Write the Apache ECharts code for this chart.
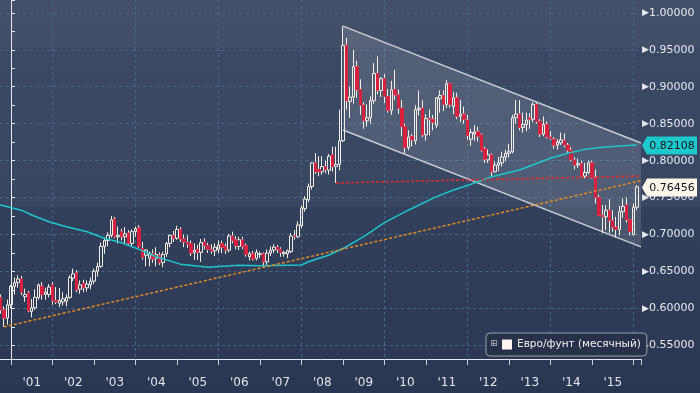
<!DOCTYPE html>
<html><head><meta charset="utf-8">
<script src="https://cdn.jsdelivr.net/npm/echarts@6/dist/echarts.min.js"></script>
<style>html,body{margin:0;padding:0;background:#2c3752}#c{width:700px;height:393px}</style>
</head><body><div id="c"></div>
<script>
// X = months since start of Jan 2001; each monthly candle sits at its month end.
const firstX = -3; // Sep 2000
const seriesName = 'Евро/фунт (месячный)';
const yearLabels = ["'00","'01","'02","'03","'04","'05","'06","'07","'08","'09","'10","'11","'12","'13","'14","'15"];

const opens = [
0.6150,0.5980,0.5870,0.6050,
0.6300,0.6350,0.6400,0.6160,0.6210,0.5960,0.6010,0.6150,0.6300,0.6190,0.6190,0.6320,
0.6110,0.6070,0.6090,0.6100,0.6150,0.6410,0.6480,0.6260,0.6340,0.6280,0.6320,0.6370,
0.6505,0.6570,0.6840,0.6920,0.6990,0.7210,0.6970,0.7040,0.6970,0.7020,0.6880,0.7040,
0.7090,0.6810,0.6720,0.6680,0.6740,0.6680,0.6720,0.6620,0.6740,0.6880,0.6990,0.6950,
0.7070,0.6940,0.6890,0.6880,0.6760,0.6800,0.6760,0.6900,0.6850,0.6800,0.6780,0.6800,
0.6880,0.6840,0.6790,0.6980,0.6930,0.6840,0.6930,0.6850,0.6700,0.6740,0.6680,0.6730,
0.6740,0.6630,0.6750,0.6790,0.6830,0.6800,0.6740,0.6740,0.6770,0.6980,0.6970,0.7120,
0.7350,0.7470,0.7650,0.7970,0.7880,0.7850,0.7920,0.7870,0.8080,0.7920,0.7950,0.8270,
0.9560,0.8800,0.8860,0.9270,0.8960,0.8750,0.8540,0.8580,0.8810,0.9180,0.8950,0.9110,
0.8870,0.8680,0.8960,0.8890,0.8710,0.8460,0.8180,0.8330,0.8270,0.8690,0.8710,0.8350,
0.8570,0.8560,0.8480,0.8840,0.8880,0.8760,0.9040,0.8730,0.8850,0.8600,0.8630,0.8550,
0.8290,0.8360,0.8390,0.8350,0.8160,0.8010,0.8080,0.7850,0.7940,0.7970,0.8050,0.8100,
0.8120,0.8580,0.8630,0.8450,0.8490,0.8580,0.8560,0.8760,0.8530,0.8360,0.8490,0.8320,
0.8290,0.8210,0.8240,0.8270,0.8210,0.8140,0.8010,0.7940,0.7960,0.7790,0.7840,0.7970,
0.7770,0.7500,0.7260,0.7240,0.7330,0.7190,0.7100,0.7070,0.7310,0.7400,0.7200,0.7000,
0.7370];
const highs = [
0.6190,0.6030,0.6120,0.6320,
0.6420,0.6450,0.6440,0.6270,0.6240,0.6130,0.6260,0.6340,0.6360,0.6280,0.6330,0.6360,
0.6290,0.6280,0.6220,0.6190,0.6450,0.6540,0.6520,0.6380,0.6390,0.6380,0.6420,0.6540,
0.6620,0.6890,0.6960,0.7030,0.7250,0.7240,0.7110,0.7080,0.7100,0.7060,0.7070,0.7110,
0.7130,0.6900,0.6800,0.6770,0.6800,0.6830,0.6760,0.6770,0.6900,0.7000,0.7050,0.7120,
0.7100,0.7000,0.6990,0.6920,0.6880,0.6860,0.6940,0.6950,0.6890,0.6870,0.6880,0.6920,
0.6920,0.6880,0.7010,0.7040,0.6980,0.6970,0.6970,0.6880,0.6770,0.6780,0.6800,0.6770,
0.6760,0.6800,0.6840,0.6870,0.6860,0.6830,0.6780,0.6800,0.7020,0.7060,0.7180,0.7390,
0.7520,0.7690,0.7980,0.8100,0.8060,0.8060,0.8000,0.8090,0.8190,0.8190,0.8690,0.9820,
0.9660,0.9000,0.9500,0.9350,0.9100,0.8790,0.8760,0.8870,0.9320,0.9410,0.9130,0.9170,
0.8970,0.9080,0.9230,0.8960,0.8820,0.8500,0.8410,0.8360,0.8750,0.8950,0.8820,0.8630,
0.8690,0.8620,0.8860,0.8950,0.8950,0.9090,0.9050,0.8930,0.8920,0.8820,0.8730,0.8620,
0.8430,0.8480,0.8460,0.8370,0.8190,0.8150,0.8100,0.7990,0.8050,0.8120,0.8150,0.8230,
0.8620,0.8820,0.8820,0.8650,0.8650,0.8640,0.8790,0.8780,0.8560,0.8600,0.8530,0.8400,
0.8320,0.8290,0.8380,0.8370,0.8240,0.8180,0.8050,0.8030,0.8000,0.7970,0.8000,0.8000,
0.7880,0.7540,0.7400,0.7400,0.7480,0.7330,0.7240,0.7390,0.7490,0.7500,0.7210,0.7420,
0.7670];
const lows = [
0.5930,0.5752,0.5780,0.6000,
0.6190,0.6280,0.6180,0.6090,0.5950,0.5880,0.5980,0.6120,0.6120,0.6120,0.6150,0.6050,
0.6060,0.6020,0.6040,0.6030,0.6130,0.6370,0.6220,0.6200,0.6220,0.6230,0.6260,0.6330,
0.6430,0.6550,0.6740,0.6840,0.6960,0.6950,0.6880,0.6920,0.6880,0.6850,0.6840,0.6970,
0.6820,0.6660,0.6570,0.6570,0.6620,0.6570,0.6590,0.6560,0.6700,0.6830,0.6900,0.6930,
0.6900,0.6830,0.6820,0.6710,0.6660,0.6660,0.6630,0.6800,0.6750,0.6740,0.6710,0.6750,
0.6750,0.6740,0.6760,0.6880,0.6800,0.6790,0.6800,0.6700,0.6650,0.6650,0.6650,0.6680,
0.6560,0.6590,0.6710,0.6750,0.6750,0.6700,0.6700,0.6680,0.6750,0.6930,0.6950,0.7090,
0.7310,0.7440,0.7610,0.7820,0.7790,0.7810,0.7830,0.7810,0.7850,0.7698,0.7870,0.8250,
0.8690,0.8580,0.8770,0.8850,0.8620,0.8430,0.8460,0.8500,0.8770,0.8900,0.8860,0.8780,
0.8650,0.8620,0.8820,0.8630,0.8330,0.8100,0.8140,0.8190,0.8220,0.8610,0.8320,0.8270,
0.8340,0.8410,0.8440,0.8650,0.8670,0.8710,0.8720,0.8630,0.8560,0.8520,0.8500,0.8280,
0.8200,0.8270,0.8260,0.8120,0.7970,0.7970,0.7780,0.7840,0.7860,0.7920,0.7990,0.8040,
0.8100,0.8500,0.8410,0.8380,0.8400,0.8430,0.8520,0.8500,0.8320,0.8330,0.8300,0.8280,
0.8160,0.8150,0.8210,0.8180,0.8090,0.7990,0.7880,0.7900,0.7780,0.7760,0.7820,0.7760,
0.7420,0.7250,0.7015,0.7060,0.7020,0.7040,0.6960,0.6990,0.7230,0.7160,0.6990,0.6990,
0.7330];
const closes = [
0.5980,0.5870,0.6050,0.6300,
0.6350,0.6400,0.6220,0.6190,0.5970,0.6010,0.6150,0.6320,0.6190,0.6220,0.6290,0.6110,
0.6090,0.6110,0.6130,0.6150,0.6420,0.6470,0.6250,0.6320,0.6280,0.6330,0.6370,0.6505,
0.6570,0.6840,0.6920,0.6990,0.7200,0.6970,0.6990,0.6970,0.7010,0.6880,0.7040,0.7080,
0.6840,0.6690,0.6790,0.6750,0.6670,0.6730,0.6620,0.6730,0.6880,0.6990,0.6950,0.7070,
0.6940,0.6900,0.6870,0.6750,0.6790,0.6760,0.6890,0.6850,0.6800,0.6780,0.6830,0.6860,
0.6830,0.6790,0.6980,0.6920,0.6850,0.6930,0.6840,0.6730,0.6740,0.6670,0.6760,0.6740,
0.6630,0.6750,0.6790,0.6830,0.6800,0.6760,0.6760,0.6780,0.6980,0.6970,0.7130,0.7360,
0.7480,0.7650,0.7970,0.7850,0.7850,0.7920,0.7880,0.8060,0.7920,0.7950,0.8270,0.9560,
0.8810,0.8860,0.9270,0.8960,0.8750,0.8540,0.8580,0.8810,0.9180,0.8950,0.9110,0.8870,
0.8680,0.8960,0.8890,0.8710,0.8460,0.8180,0.8320,0.8280,0.8690,0.8710,0.8350,0.8570,
0.8560,0.8520,0.8850,0.8880,0.8760,0.9040,0.8760,0.8850,0.8600,0.8630,0.8560,0.8340,
0.8380,0.8390,0.8330,0.8140,0.8020,0.8080,0.7850,0.7940,0.7970,0.8050,0.8100,0.8120,
0.8580,0.8630,0.8450,0.8490,0.8550,0.8560,0.8760,0.8530,0.8360,0.8490,0.8320,0.8300,
0.8210,0.8250,0.8280,0.8210,0.8140,0.8010,0.7940,0.7960,0.7790,0.7840,0.7970,0.7770,
0.7500,0.7260,0.7240,0.7330,0.7190,0.7100,0.7070,0.7310,0.7380,0.7200,0.7040,0.7370,
0.76456];

// cyan moving average
const maX = [-12,-3,3,6,11,16,22,27,32,37,42,49,57,66,72,84,86,92,97,102,108,115,123,128,133,139,147,156,161,166,171,176,181];
const maY = [0.753,0.740,0.733,0.7265,0.7174,0.7107,0.7039,0.6950,0.6890,0.6800,0.6700,0.6600,0.6558,0.6585,0.6580,0.6589,0.6633,0.6724,0.6836,0.6971,0.7161,0.7333,0.7513,0.7603,0.7680,0.7783,0.7874,0.8032,0.8100,0.8154,0.8181,0.8198,0.82108];

const trendX = [-2, 182.17], trendY = [0.5752, 0.7729];      // orange dotted support
const levelX = [94, 182.17], levelY = [0.7698, 0.7792];      // red dotted line
const channelX = [96, 182.17];
const channelUpper = [0.9820, 0.8238];
const channelLower = [0.8415, 0.6833];

const FONT = 'DejaVu Sans';
const axisColor = '#e6e9ef';
const gridColor = '#4b6683';

const xs = opens.map((_, i) => firstX + i);
const candles = xs.map((x, i) => [x, opens[i], closes[i], lows[i], highs[i]]);
const downBodies = xs.map((x, i) => [x, opens[i], closes[i], Math.min(opens[i], closes[i]), Math.max(opens[i], closes[i])])
  .filter(d => d[1] > d[2]);
const last = opens.length - 1;

const chart = echarts.init(document.getElementById('c'), null, {renderer: 'canvas', width: 700, height: 393});

const option = {
  animation: false,
  backgroundColor: {type: 'linear', x: 0, y: 0, x2: 0, y2: 1, colorStops: [
    {offset: 0, color: '#444f69'}, {offset: 0.122, color: '#434e68'},
    {offset: 0.123, color: '#3c4965'}, {offset: 0.525, color: '#394662'},
    {offset: 0.527, color: '#33405c'}, {offset: 0.91, color: '#2d3954'}, {offset: 1, color: '#2b3651'}]},
  grid: [
    {left: -30.5, top: 0, width: 671.5, bottom: 34, outerBoundsMode: 'none', containLabel: false},
    {left: -9.75, top: 0, width: 671.5, bottom: 34, outerBoundsMode: 'none', containLabel: false}
  ],
  xAxis: [
    {type: 'value', gridIndex: 0, min: -12, max: 182.17, interval: 12,
     axisLine: {show: true, onZero: false, lineStyle: {color: axisColor, width: 1}},
     axisTick: {show: true, length: 6, lineStyle: {color: '#c9cfd9'}},
     axisLabel: {show: false}, splitLine: {show: false}},
    {type: 'value', gridIndex: 0, min: -12, max: 182.17, interval: 24,
     axisLine: {show: false}, axisTick: {show: false}, axisLabel: {show: false},
     splitLine: {show: true, showMinLine: false, showMaxLine: false, lineStyle: {color: gridColor, type: [3, 3], width: 1}}},
    {type: 'value', gridIndex: 1, min: -12, max: 182.17, interval: 12,
     axisLine: {show: false}, axisTick: {show: false}, splitLine: {show: false},
     axisLabel: {show: true, margin: 18, color: '#dfe5ee', fontSize: 12, fontFamily: FONT, showMinLabel: true, showMaxLabel: false,
       formatter: v => { const k = Math.round(v / 12) + 1; return (k >= 0 && k < yearLabels.length) ? yearLabels[k] : ''; }}}
  ],
  yAxis: [
    {type: 'value', gridIndex: 0, position: 'right', min: 0.5317, max: 1.0173, splitNumber: 10,
     axisLine: {show: true, lineStyle: {color: axisColor, width: 1}},
     axisTick: {show: true, length: 4, lineStyle: {color: axisColor}},
     minorTick: {show: true, splitNumber: 2, length: 4, lineStyle: {color: axisColor}},
     splitLine: {show: true, showMinLine: false, showMaxLine: false, lineStyle: {color: gridColor, type: [3, 3], width: 1}},
     axisLabel: {showMinLabel: false, showMaxLabel: false, margin: 1,
       formatter: v => '{t|\u25B6}{v|' + v.toFixed(5) + '}',
       rich: {t: {color: axisColor, fontSize: 9, fontFamily: FONT, padding: [0, 0, 0, 0]},
              v: {color: axisColor, fontSize: 11, fontFamily: FONT}}}},
    {type: 'value', gridIndex: 1, show: false, min: 0, max: 1}
  ],
  legend: {
    show: true, left: 486, top: 333, orient: 'horizontal', selectedMode: false,
    padding: [6, 6, 6, 16], itemWidth: 10, itemHeight: 10, itemGap: 5,
    backgroundColor: '#27324a', borderColor: '#9aa0aa', borderWidth: 1, borderRadius: 4,
    textStyle: {color: '#f2f2f2', fontSize: 10.5, fontFamily: FONT},
    data: [{name: seriesName, icon: 'rect', itemStyle: {color: '#fff5ee', borderWidth: 0}}]
  },
  graphic: [
    {type: 'text', left: 490, top: 339, z: 100, style: {text: '\u229E', fill: '#b4b8c0', fontSize: 9, fontFamily: FONT}}
  ],
  series: [
    {type: 'custom', name: 'channel', xAxisIndex: 0, yAxisIndex: 0, z: 1, silent: true, clip: true,
     data: [[channelX[0], channelUpper[0]]], encode: {x: 0, y: 1},
     renderItem: (params, api) => {
       const u0 = api.coord([channelX[0], channelUpper[0]]), u1 = api.coord([channelX[1], channelUpper[1]]);
       const l0 = api.coord([channelX[0], channelLower[0]]), l1 = api.coord([channelX[1], channelLower[1]]);
       return {type: 'group', children: [
         {type: 'polygon', shape: {points: [u0, u1, l1, l0]}, style: {fill: 'rgba(255,255,255,0.12)'}},
         {type: 'line', shape: {x1: u0[0], y1: u0[1], x2: u1[0], y2: u1[1]}, style: {stroke: '#c9ccd3', lineWidth: 1.5}},
         {type: 'line', shape: {x1: l0[0], y1: l0[1], x2: l1[0], y2: l1[1]}, style: {stroke: '#c9ccd3', lineWidth: 1.5}}
       ]};
     }},
    {type: 'candlestick', name: seriesName, xAxisIndex: 0, yAxisIndex: 0, z: 3, clip: true, barWidth: 3,
     dimensions: ['x', 'open', 'close', 'lowest', 'highest'],
     encode: {x: 'x', y: ['open', 'close', 'lowest', 'highest']},
     data: candles,
     itemStyle: {color: 'rgba(0,0,0,0)', color0: 'rgba(0,0,0,0)', borderColor: '#f4efe6', borderColor0: '#f4efe6', borderWidth: 1}},
    {type: 'candlestick', name: 'down', xAxisIndex: 0, yAxisIndex: 0, z: 4, clip: true, barWidth: 3,
     dimensions: ['x', 'open', 'close', 'lowest', 'highest'],
     encode: {x: 'x', y: ['open', 'close', 'lowest', 'highest']},
     data: downBodies,
     itemStyle: {color: '#d8213f', color0: '#d8213f', borderColor: '#d8213f', borderColor0: '#d8213f', borderWidth: 1}},
    {type: 'line', name: 'MA', xAxisIndex: 0, yAxisIndex: 0, z: 5, showSymbol: false, symbol: 'none', clip: true,
     data: maX.map((x, i) => [x, maY[i]]), lineStyle: {color: '#1ec5cb', width: 1.5}},
    {type: 'line', name: 'trend', xAxisIndex: 0, yAxisIndex: 0, z: 5, showSymbol: false, symbol: 'none', clip: true,
     data: trendX.map((x, i) => [x, trendY[i]]), lineStyle: {color: '#e38b1f', width: 1.5, type: [3, 2]}},
    {type: 'line', name: 'level', xAxisIndex: 0, yAxisIndex: 0, z: 5, showSymbol: false, symbol: 'none', clip: true,
     data: levelX.map((x, i) => [x, levelY[i]]), lineStyle: {color: '#e02b2b', width: 1.5, type: [3, 2]}},
    {type: 'custom', name: 'tags', xAxisIndex: 0, yAxisIndex: 0, z: 20, silent: true, clip: false,
     data: [[maX[maX.length - 1], maY[maY.length - 1], 0], [xs[last], closes[last], 1]],
     encode: {x: 0, y: 1},
     renderItem: (params, api) => {
       const p = api.coord([api.value(0), api.value(1)]);
       const r = params.coordSys.x + params.coordSys.width;
       const y = Math.round(p[1]) + 0.5;
       const kind = api.value(2);
       const fill = kind === 0 ? '#1cc8cc' : '#fff6ea';
       return {type: 'group', children: [
         {type: 'polygon', shape: {points: [[r + 1, y], [r + 6, y - 9], [r + 56, y - 9], [r + 56, y + 9], [r + 6, y + 9]]},
          style: {fill: fill}},
         {type: 'text', style: {text: api.value(1).toFixed(5), x: r + 31, y: y + 0.5, fill: '#0d1620',
          font: '11px "DejaVu Sans"', align: 'center', verticalAlign: 'middle'}}
       ]};
     }}
  ]
};
chart.setOption(option);
</script>
</body></html>
